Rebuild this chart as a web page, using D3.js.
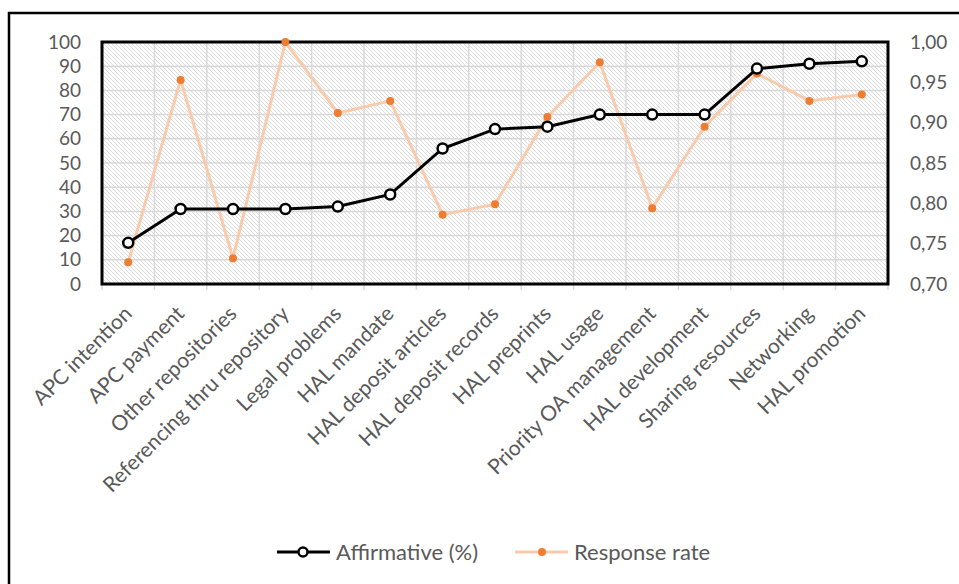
<!DOCTYPE html>
<html>
<head>
<meta charset="utf-8">
<script src="https://cdn.jsdelivr.net/npm/d3@7"></script>
<style>
  body { margin: 0; background: #fff; }
  text { font-family: Lato, "Open Sans", sans-serif; fill: #595959; }
</style>
</head>
<body>
<svg id="chart" width="959" height="584"></svg>
<script>
// categories and series
var categories = ["APC intention", "APC payment", "Other repositories", "Referencing thru repository",
  "Legal problems", "HAL mandate", "HAL deposit articles", "HAL deposit records", "HAL preprints",
  "HAL usage", "Priority OA management", "HAL development", "Sharing resources", "Networking", "HAL promotion"];
var affirmative = [17, 31, 31, 31, 32, 37, 56, 64, 65, 70, 70, 70, 89, 91, 92];
var responseRate = [0.727, 0.953, 0.732, 1.00, 0.912, 0.927, 0.786, 0.799, 0.907, 0.975, 0.794, 0.895, 0.961, 0.927, 0.935];
var leftTicks = [0, 10, 20, 30, 40, 50, 60, 70, 80, 90, 100];
var rightTicks = [0.70, 0.75, 0.80, 0.85, 0.90, 0.95, 1.00];

var svg = d3.select("#chart");
var plot = { left: 102, top: 42, right: 888, bottom: 284 };

// outer chart border (runs off the right/bottom edge)
svg.append("rect").attr("x", 9).attr("y", 13).attr("width", 1000).attr("height", 700)
  .attr("fill", "none").attr("stroke", "#000").attr("stroke-width", 2.5);

// hatch pattern
var defs = svg.append("defs");
var pat = defs.append("pattern").attr("id", "hatch").attr("patternUnits", "userSpaceOnUse")
  .attr("width", 4).attr("height", 4);
pat.append("rect").attr("width", 4).attr("height", 4).attr("fill", "#fff");
pat.append("path").attr("d", "M-1,-1 L5,5 M-1,3 L1,5 M3,-1 L5,1")
  .attr("stroke", "#dcdcdc").attr("stroke-width", 1);

var x = d3.scaleBand().domain(categories).range([plot.left, plot.right]);
var yL = d3.scaleLinear().domain([0, 100]).range([plot.bottom, plot.top]);
var yR = d3.scaleLinear().domain([0.70, 1.00]).range([plot.bottom, plot.top]);

svg.append("rect").attr("x", plot.left).attr("y", plot.top)
  .attr("width", plot.right - plot.left).attr("height", plot.bottom - plot.top)
  .attr("fill", "url(#hatch)");

// gridlines
svg.append("g").selectAll("line").data(leftTicks).enter().append("line")
  .attr("x1", plot.left).attr("x2", plot.right)
  .attr("y1", function(d){ return yL(d); }).attr("y2", function(d){ return yL(d); })
  .attr("stroke", "#d9d9d9").attr("stroke-width", 1.5);
svg.append("g").selectAll("line").data(categories).enter().append("line")
  .attr("x1", function(d){ return x(d); }).attr("x2", function(d){ return x(d); })
  .attr("y1", plot.top).attr("y2", plot.bottom + 6)
  .attr("stroke", "#d9d9d9").attr("stroke-width", 1.5);
svg.append("line").attr("x1", plot.right).attr("x2", plot.right)
  .attr("y1", plot.bottom).attr("y2", plot.bottom + 6).attr("stroke", "#d9d9d9").attr("stroke-width", 1.5);

// plot border
svg.append("rect").attr("x", plot.left).attr("y", plot.top)
  .attr("width", plot.right - plot.left).attr("height", plot.bottom - plot.top)
  .attr("fill", "none").attr("stroke", "#000").attr("stroke-width", 3);

// left axis labels
svg.append("g").selectAll("text").data(leftTicks).enter().append("text")
  .attr("x", 81).attr("y", function(d){ return yL(d); }).attr("dy", "0.35em")
  .attr("text-anchor", "end").attr("font-size", "19px")
  .text(function(d){ return d; });

// right axis labels
svg.append("g").selectAll("text").data(rightTicks).enter().append("text")
  .attr("x", 910).attr("y", function(d){ return yR(d); }).attr("dy", "0.35em")
  .attr("text-anchor", "start").attr("font-size", "19px")
  .text(function(d){ return d3.format(".2f")(d).replace(".", ","); });

// category labels
svg.append("g").selectAll("text").data(categories).enter().append("text")
  .attr("transform", function(d){
    return "translate(" + (x(d) + x.bandwidth() / 2 + 5) + "," + (plot.bottom + 31) + ") rotate(-45)";
  })
  .attr("text-anchor", "end").attr("font-size", "21px")
  .text(function(d){ return d; });

var cx = function(d, i){ return x(categories[i]) + x.bandwidth() / 2; };

// response rate line
svg.append("path").datum(responseRate)
  .attr("d", d3.line().x(cx).y(function(d){ return yR(d); }))
  .attr("fill", "none").attr("stroke", "#f8cbad").attr("stroke-width", 3);
svg.append("g").selectAll("circle").data(responseRate).enter().append("circle")
  .attr("cx", cx).attr("cy", function(d){ return yR(d); }).attr("r", 4)
  .attr("fill", "#ed7d31");

// affirmative line
svg.append("path").datum(affirmative)
  .attr("d", d3.line().x(cx).y(function(d){ return yL(d); }))
  .attr("fill", "none").attr("stroke", "#000").attr("stroke-width", 3);
svg.append("g").selectAll("circle").data(affirmative).enter().append("circle")
  .attr("cx", cx).attr("cy", function(d){ return yL(d); }).attr("r", 5)
  .attr("fill", "#fff").attr("stroke", "#000").attr("stroke-width", 2.5);

// legend
var lg = svg.append("g");
lg.append("line").attr("x1", 277).attr("x2", 330).attr("y1", 552).attr("y2", 552)
  .attr("stroke", "#000").attr("stroke-width", 3);
lg.append("circle").attr("cx", 303).attr("cy", 552).attr("r", 4.5)
  .attr("fill", "#fff").attr("stroke", "#000").attr("stroke-width", 2.5);
lg.append("text").attr("x", 336).attr("y", 552).attr("dy", "0.35em").attr("font-size", "22px")
  .text("Affirmative (%)");
lg.append("line").attr("x1", 515).attr("x2", 568).attr("y1", 552).attr("y2", 552)
  .attr("stroke", "#f8cbad").attr("stroke-width", 3);
lg.append("circle").attr("cx", 542).attr("cy", 552).attr("r", 4).attr("fill", "#ed7d31");
lg.append("text").attr("x", 574).attr("y", 552).attr("dy", "0.35em").attr("font-size", "22px")
  .text("Response rate");
</script>
</body>
</html>
